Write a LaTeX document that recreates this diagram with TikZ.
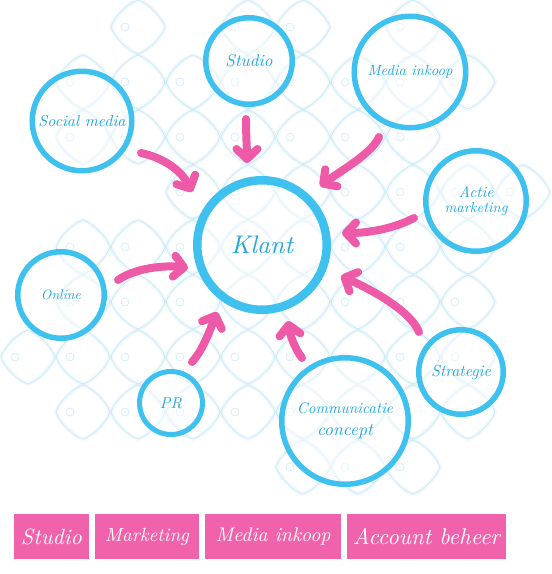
\documentclass[tikz,border=0pt]{standalone}
\usepackage{graphicx}
\usetikzlibrary{arrows.meta,calc}
\definecolor{cblue}{HTML}{3EC1EE}
\definecolor{tblue}{HTML}{22A6E0}
\definecolor{bpink}{HTML}{F062AB}
\definecolor{apink}{HTML}{EE5AA7}
\definecolor{patblue}{HTML}{8FD3F2}
\tikzset{
  patA/.style={draw=patblue, line width=4pt, opacity=0.12},
  patB/.style={draw=patblue, line width=0.6pt, opacity=0.45},
  dia/.pic={
    \draw[patA] (0,-27) .. controls (10,-24) and (24,-10) .. (27,0) .. controls (24,10) and (10,24) .. (0,27) .. controls (-10,24) and (-24,10) .. (-27,0) .. controls (-24,-10) and (-10,-24) .. cycle;
    \draw[patB] (0,-27) .. controls (10,-24) and (24,-10) .. (27,0) .. controls (24,10) and (10,24) .. (0,27) .. controls (-10,24) and (-24,10) .. (-27,0) .. controls (-24,-10) and (-10,-24) .. cycle;
    \draw[patB] (-13,0) circle[radius=4];
  },
  bub/.style={circle, draw=cblue, line width=5.5pt, fill=white, fill opacity=0.45, text opacity=1, draw opacity=1, inner sep=0pt, minimum size=#1, text=tblue, align=center, font=\itshape},
  tag/.style={rectangle, fill=bpink, inner sep=0pt, minimum height=45pt, minimum width=#1, text=white, font=\itshape},
  arr/.style={draw=apink, line width=8pt, line cap=round, line join=round, -{Straight Barb[round, length=10pt, width=21pt]}},
}
\begin{document}
\begin{tikzpicture}[x=1pt,y=-1pt]
\useasboundingbox (0,0) rectangle (552,574);
\fill[white] (0,0) rectangle (552,574);
% background pattern
\foreach \yy/\xs in {27/{138,248,303,413},
                     82/{83,138,193,248,303,358,413,468},
                     137/{83,138,193,248,303,358,413},
                     192/{193,248,303,358,413,468,523},
                     247/{83,138,193,248,303,358,413,468},
                     302/{83,138,193,248,303,358,413,468},
                     357/{28,83,138,193,248,303,358,413,468},
                     412/{83,138,193,248,303,358,413,468},
                     467/{303,358,413}}{
  \foreach \xx in \xs { \pic at (\xx,\yy) {dia}; }
}
% circles
\node[bub=86.5pt] (studio) at (249,61) {\resizebox{47pt}{!}{Studio}};
\node[bub=111.5pt] (media) at (410,72) {\resizebox{85pt}{!}{Media inkoop}};
\node[bub=99.5pt] (social) at (82,121) {\resizebox{87pt}{!}{Social media}};
\node[bub=129.5pt, line width=8.5pt] (klant) at (262,245) {\resizebox{62pt}{!}{Klant}};
\node[bub=100.5pt] (actie) at (476,201) {\resizebox{35pt}{!}{Actie}\\[3pt]\resizebox{63pt}{!}{marketing}};
\node[bub=86.5pt] (online) at (61,295) {\resizebox{40pt}{!}{Online}};
\node[bub=63pt, line width=5pt] (pr) at (171,403) {\resizebox{22pt}{!}{PR}};
\node[bub=84.5pt] (strategie) at (461,372) {\resizebox{60pt}{!}{Strategie}};
\node[bub=126.5pt] (comm) at (345,421) {\resizebox{96pt}{!}{Communicatie}\\[10pt]\resizebox{56pt}{!}{concept}};
% arrow end points
\coordinate (a1s) at (141,153); \coordinate (a1e) at (192,192);
\coordinate (a2s) at (246,119); \coordinate (a2e) at (247,163);
\coordinate (a3s) at (379,137); \coordinate (a3e) at (320,186);
\coordinate (a4s) at (414,218); \coordinate (a4e) at (342,233);
\coordinate (a5s) at (419,332); \coordinate (a5e) at (341,276);
\coordinate (a6s) at (302,358); \coordinate (a6e) at (288,321);
\coordinate (a7s) at (192,362); \coordinate (a7e) at (217,312);
\coordinate (a8s) at (118,280); \coordinate (a8e) at (188,268);
\draw[arr] (a1s) .. controls (160,157) and (180,168) .. (a1e);
\draw[arr] (a2s) .. controls (246,135) and (247,150) .. (a2e);
\draw[arr] (a3s) .. controls (372,153) and (345,168) .. (a3e);
\draw[arr] (a4s) .. controls (395,228) and (370,233) .. (a4e);
\draw[arr] (a5s) .. controls (410,310) and (370,289) .. (a5e);
\draw[arr] (a6s) .. controls (295,349) and (290,335) .. (a6e);
\draw[arr] (a7s) .. controls (203,350) and (210,330) .. (a7e);
\draw[arr] (a8s) .. controls (135,268) and (165,265) .. (a8e);
% bottom tags
\node[tag=75pt] (t1) at (51.5,536.5) {\resizebox{61pt}{!}{Studio}};
\node[tag=104pt] (t2) at (147,536.5) {\resizebox{84pt}{!}{Marketing}};
\node[tag=136pt] (t3) at (273,536.5) {\resizebox{115pt}{!}{Media inkoop}};
\node[tag=159pt] (t4) at (426.5,536.5) {\resizebox{147pt}{!}{Account beheer}};
\end{tikzpicture}
\end{document}
